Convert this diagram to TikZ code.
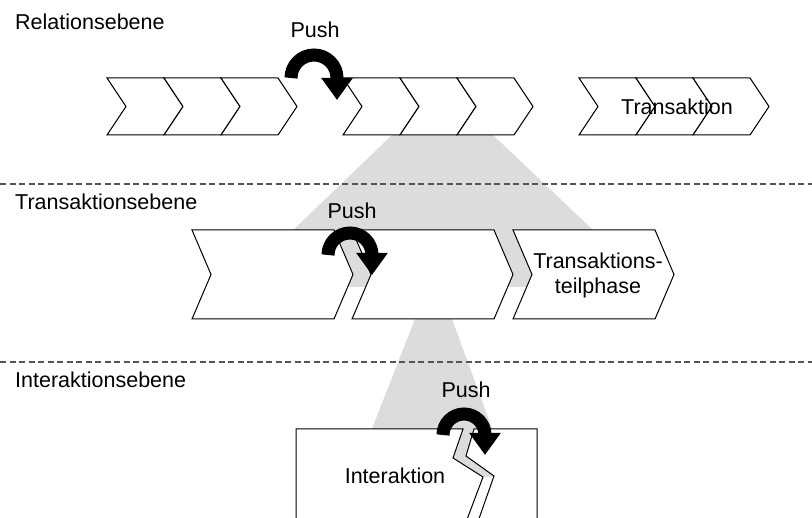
\documentclass[tikz,border=0pt]{standalone}
\usepackage{fontspec}
\setmainfont{Liberation Sans}
\usetikzlibrary{arrows.meta}

\definecolor{shadegrey}{RGB}{220,220,220}
\definecolor{dashgrey}{RGB}{85,85,85}

\begin{document}
\begin{tikzpicture}[x=1pt,y=-1pt,
    font=\fontsize{21.5}{25}\selectfont,
    chevron/.style={fill=white,draw=black,line width=1pt},
    shade/.style={fill=shadegrey,draw=none},
    separator/.style={draw=dashgrey,line width=1.3pt,dash pattern=on 6pt off 3.5pt},
    push arrow/.style={line width=13pt,-{Triangle[width=30pt,length=22pt]}},
    level label/.style={anchor=base west,inner sep=0pt},
    push label/.style={anchor=base,inner sep=0pt}]
  \useasboundingbox (0,0) rectangle (812,518);
  \clip (0,0) rectangle (812,518);

  % zoom funnels
  \path[shade] (392,135) -- (493,135) -- (653,287) -- (234,287) -- cycle;
  \path[shade] (415,319) -- (452,319) -- (510,477) -- (353,477) -- cycle;

  \draw[separator] (0,184) -- (812,184);
  \draw[separator] (0,362) -- (812,362);

  % relation level
  \foreach \x in {107,164,221,343,400,457,579,636,693}
    \draw[chevron] (\x,78) -- ++(57,0) -- ++(19,28.5) -- ++(-19,28.5)
      -- ++(-57,0) -- ++(19,-28.5) -- cycle;

  % transaction level
  \foreach \x in {192,352,513}
    \draw[chevron] (\x,230) -- ++(142,0) -- ++(19,44.5) -- ++(-19,44.5)
      -- ++(-142,0) -- ++(19,-44.5) -- cycle;

  % interaction level
  \draw[chevron] (296,530) -- (296,429) -- (463,429) -- (453,458) -- (483,477) -- (463,530);
  \draw[chevron] (474,429) -- (537,429) -- (537,530) -- (475,530) -- (494,476) -- (466,456) -- cycle;

  \node[level label] (rel) at (15,30) {Relationsebene};
  \node[level label] (trans) at (15,210) {Transaktionsebene};
  \node[level label] (inter) at (15,388) {Interaktionsebene};

  \node (tx) at (677,107) {Transaktion};
  \node[align=center] (tph) at (598,275) {Transaktions-\\teilphase};
  \node[anchor=base] (ia) at (395,484) {Interaktion};

  \node[push label] (push1) at (315,38) {Push};
  \node[push label] (push2) at (352,219) {Push};
  \node[push label] (push3) at (466,398) {Push};

  \coordinate (turn1) at (314,78);
  \coordinate (turn2) at (350,255);
  \coordinate (turn3) at (464,435);
  \draw[push arrow] (turn1) ++(-23,0) arc[start angle=180,end angle=360,radius=23] -- ++(0,22);
  \draw[push arrow] (turn2) ++(-22,0) arc[start angle=180,end angle=360,radius=22] -- ++(0,20);
  \draw[push arrow] (turn3) ++(-21,0) arc[start angle=180,end angle=360,radius=21] -- ++(0,20);
\end{tikzpicture}
\end{document}
